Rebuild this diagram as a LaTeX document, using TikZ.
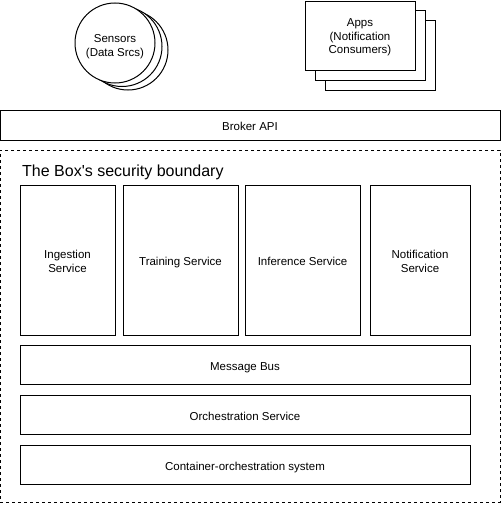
\documentclass[tikz,border=0pt]{standalone}
\usepackage{fontspec}
\setmainfont{Liberation Sans}[Ligatures=TeXOff]
\tikzset{
  box/.style={draw=black, line width=1pt, fill=white, inner sep=0pt, align=center,
    font=\fontsize{11.5}{13.6}\selectfont},
  oneline/.style={text height=13pt, text depth=2pt},
  sensor/.style={draw=black, line width=1pt, fill=white, circle, inner sep=0pt, minimum size=80pt,
    align=center, font=\fontsize{11.5}{13.6}\selectfont},
  boundary/.style={draw=black, line width=1pt, dash pattern=on 3pt off 3pt},
  titletext/.style={inner sep=0pt, font=\fontsize{16}{19}\selectfont}
}
\newcommand{\firstline}[1]{\rule{0pt}{#1}}
\begin{document}
\begin{tikzpicture}[x=1pt, y=-1pt]
\useasboundingbox (0,0) rectangle (502,506);
\fill[white] (0,0) rectangle (502,506);

% Sensors (stacked circles)
\node[sensor] (s3) at (128,50) {};
\node[sensor] (s2) at (122,46.5) {};
\node[sensor] (s1) at (115,43) {\firstline{15pt}Sensors\\(Data Srcs)};

% Apps (stacked rectangles)
\node[box, minimum width=110pt, minimum height=70pt] (a3) at (380,55) {};
\node[box, minimum width=110pt, minimum height=70pt] (a2) at (370,45) {};
\node[box, minimum width=110pt, minimum height=69pt] (a1) at (360,35.5) {\firstline{12pt}Apps\\(Notification\\Consumers)};

% Broker API
\node[box, oneline, minimum width=500pt, minimum height=30pt] (broker) at (250,125) {Broker API};

% Security boundary
\node[boundary, minimum width=500pt, minimum height=352pt, inner sep=0pt] (bound) at (250,326) {};
\node[titletext, anchor=base west] (btitle) at (22,176.5) {The Box's security boundary};

% Services
\node[box, minimum width=95pt, minimum height=150pt] (ing) at (67.5,260) {\firstline{11.6pt}Ingestion\\Service};
\node[box, oneline, minimum width=115pt, minimum height=150pt] (train) at (180.5,260) {Training Service};
\node[box, oneline, minimum width=115pt, minimum height=150pt] (inf) at (302.5,260) {Inference Service};
\node[box, minimum width=100pt, minimum height=150pt] (notif) at (420,260) {\firstline{11.6pt}Notification\\Service};

% Layers
\node[box, oneline, minimum width=450pt, minimum height=39pt] (bus) at (245,364.5) {Message Bus};
\node[box, oneline, minimum width=450pt, minimum height=39pt] (orch) at (245,414.5) {Orchestration Service};
\node[box, oneline, minimum width=450pt, minimum height=39pt] (cont) at (245,464.5) {Container-orchestration system};
\end{tikzpicture}
\end{document}
